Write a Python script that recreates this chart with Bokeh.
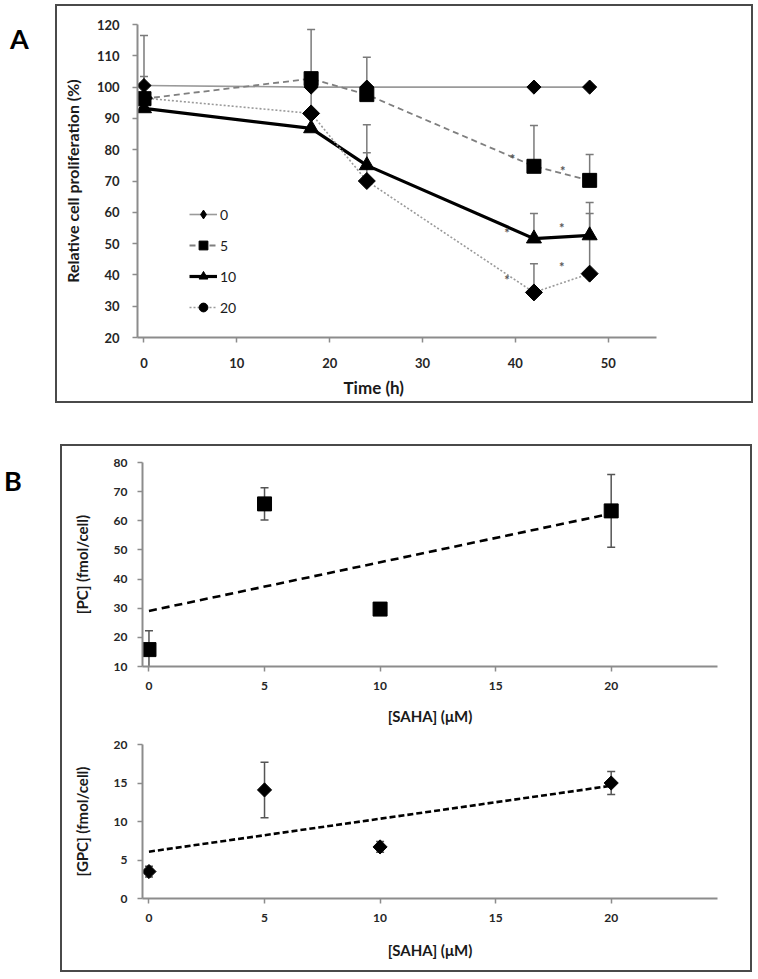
import numpy as np
from bokeh.plotting import figure
from bokeh.layouts import column, row
from bokeh.models import (ColumnDataSource, Whisker, TeeHead, Title, Div, Spacer,
                          Legend, LegendItem, FixedTicker, Range1d)
from bokeh.core.properties import value
from bokeh.embed import file_html
from bokeh.resources import INLINE

FONT = "Lato"

# ---------------- Panel A data ----------------
time_h = [0, 18, 24, 42, 48]
saha_0 = [100.5, 100, 100, 100, 100]
saha_5 = [96.3, 102.7, 97.6, 74.7, 70.2]
saha_10 = [93.2, 86.8, 75.0, 51.6, 52.6]
saha_20 = [96.5, 91.6, 70.0, 34.4, 40.4]
err_0 = [2.9, 0, 0, 0, 0]
err_5 = [20.2, 15.7, 11.9, 13.0, 8.3]
err_10 = [0, 0, 13.0, 8.0, 10.5]
err_20 = [0, 10.0, 9.0, 9.2, 19.2]
legend_labels = ["0", "5", "10", "20"]
sig_t = [39.7, 45.1, 39.1, 45.0, 39.1, 45.0]
sig_y = [78.1, 74.0, 54.5, 55.8, 39.2, 43.6]
a_xticks = [0, 10, 20, 30, 40, 50]
a_yticks = [20, 30, 40, 50, 60, 70, 80, 90, 100, 110, 120]

# ---------------- Panel B data ----------------
saha_uM = [0, 5, 10, 20]
pc = [15.8, 65.8, 29.7, 63.4]
pc_err = [6.5, 5.5, 1.5, 12.5]
gpc = [3.5, 14.1, 6.7, 15.0]
gpc_err = [0.7, 3.6, 0.7, 1.5]
b_xticks = [0, 5, 10, 15, 20]
pc_yticks = [10, 20, 30, 40, 50, 60, 70, 80]
gpc_yticks = [0, 5, 10, 15, 20]

BOX = {"border": "2px solid #4a4a4a"}


def style(p, tick_size, title_size, label_standoff, title_standoff):
    p.background_fill_color = "white"
    p.border_fill_color = "white"
    p.outline_line_color = None
    p.xgrid.visible = False
    p.ygrid.visible = False
    for ax in p.axis:
        ax.axis_line_color = "#8c8c8c"
        ax.axis_line_width = 2
        ax.major_tick_line_color = "#8c8c8c"
        ax.major_tick_line_width = 1.5
        ax.major_tick_in = 0
        ax.major_tick_out = 5
        ax.minor_tick_line_color = None
        ax.major_label_text_font = FONT
        ax.major_label_text_font_style = "bold"
        ax.major_label_text_font_size = tick_size
        ax.major_label_text_color = "#262626"
        ax.axis_label_text_font = FONT
        ax.axis_label_text_font_style = "bold"
        ax.axis_label_text_font_size = title_size
        ax.axis_label_text_color = "#1a1a1a"
        ax.major_label_standoff = label_standoff
        ax.axis_label_standoff = title_standoff


def up_whisker(p, x, y, err, color):
    x = np.asarray(x, float); y = np.asarray(y, float); e = np.asarray(err, float)
    m = e > 0
    src = ColumnDataSource(data=dict(x=x[m], lo=y[m], hi=(y + e)[m]))
    p.add_layout(Whisker(base="x", lower="lo", upper="hi", source=src, dimension="height",
                         line_color=color, line_width=1.5, lower_head=None,
                         upper_head=TeeHead(size=8, line_color=color, line_width=1.5),
                         level="underlay"))


def sym_whisker(p, x, y, err, color):
    y = np.asarray(y, float); e = np.asarray(err, float)
    src = ColumnDataSource(data=dict(x=x, lo=y - e, hi=y + e))
    p.add_layout(Whisker(base="x", lower="lo", upper="hi", source=src, dimension="height",
                         line_color=color, line_width=1.5,
                         lower_head=TeeHead(size=8, line_color=color, line_width=1.5),
                         upper_head=TeeHead(size=8, line_color=color, line_width=1.5),
                         level="underlay"))


def letter(txt, w, pad_top, pad_left):
    return Div(text=(f'<div style="font-family: {FONT}; font-weight: bold; font-size: 27px; '
                     f'line-height: 32px; color: black; padding: {pad_top}px 0 0 {pad_left}px;">{txt}</div>'),
               width=w, height=75, margin=0)


# ================= Panel A =================
pA = figure(width=694, height=395, output_backend="svg", toolbar_location=None,
            x_range=Range1d(-0.7, 55.2), y_range=Range1d(20, 120),
            min_border_left=80, min_border_right=95, min_border_top=18, min_border_bottom=64)
style(pA, "13px", "16px", 13, 12)
pA.xaxis.ticker = FixedTicker(ticks=a_xticks)
pA.yaxis.ticker = FixedTicker(ticks=a_yticks)
pA.xaxis.major_label_standoff = 15
pA.yaxis.axis_label = "Relative cell proliferation (%)"
pA.add_layout(Title(text="Time (h)", align="left", offset=206, standoff=8,
                    text_font=FONT, text_font_style="bold", text_font_size="17px",
                    text_color="#1a1a1a"), "below")

for s, e in zip([saha_0, saha_5, saha_10, saha_20], [err_0, err_5, err_10, err_20]):
    up_whisker(pA, time_h, s, e, "#7a7a7a")

line_styles = [
    dict(line_color="#9a9a9a", line_width=1.6),
    dict(line_color="#7f7f7f", line_width=1.8, line_dash="6 4"),
    dict(line_color="black", line_width=3.2),
    dict(line_color="#9a9a9a", line_width=1.6, line_dash="2 2"),
]
lines = [pA.line(time_h, s, **st) for s, st in zip([saha_0, saha_5, saha_10, saha_20], line_styles)]

# legend-style symbols (diamond / circle) lie under the plot's larger symbols
m0d = pA.scatter(time_h, saha_0, marker="diamond", size=8, color="black")
pA.scatter(time_h, saha_0, marker="square", angle=np.pi / 4, size=10, color="black")
m5 = pA.scatter(time_h, saha_5, marker="square", size=14, color="black")
m10 = pA.scatter(time_h, saha_10, marker="triangle", size=15, color="black")
m20c = pA.scatter(time_h, saha_20, marker="circle", size=8, color="black")
pA.scatter(time_h, saha_20, marker="square", angle=np.pi / 4, size=12, color="black")

pA.text(sig_t, sig_y, text=["*"] * len(sig_t), text_font=value(FONT), text_font_style="bold",
        text_font_size="13px", text_color="#555555", text_align="center",
        text_baseline="middle", y_offset=3)

items = [LegendItem(label=lab, renderers=[ln, mk])
         for lab, ln, mk in zip(legend_labels, lines, [m0d, m5, m10, m20c])]
leg = Legend(items=items, location=(52, 19), padding=0, margin=0, spacing=9,
             glyph_width=28, glyph_height=22, label_standoff=3, label_height=22,
             label_text_font=FONT, label_text_font_size="14px", label_text_color="#1a1a1a",
             border_line_color=None, background_fill_alpha=0)
pA.add_layout(leg)

# ================= Panel B (PC) =================
p1 = figure(width=688, height=284, output_backend="svg", toolbar_location=None,
            x_range=Range1d(-0.28, 24.6), y_range=Range1d(10, 80),
            min_border_left=80, min_border_right=33, min_border_top=16, min_border_bottom=64)
style(p1, "12px", "15px", 10, 14)
p1.yaxis.axis_label_standoff = 20
p1.xaxis.ticker = FixedTicker(ticks=b_xticks)
p1.yaxis.ticker = FixedTicker(ticks=pc_yticks)
p1.xaxis.axis_label = "[SAHA] (μM)"
p1.yaxis.axis_label = "[PC] (fmol/cell)"

tx = np.array([0.0, 20.0])
coef_pc = np.polyfit(saha_uM, pc, 1)
p1.line(tx, np.polyval(coef_pc, tx), line_color="black", line_width=2.6, line_dash="8 5")
sym_whisker(p1, saha_uM, pc, pc_err, "#555555")
p1.scatter(saha_uM, pc, marker="square", size=14, color="black")

# ================= Panel B (GPC) =================
p2 = figure(width=688, height=240, output_backend="svg", toolbar_location=None,
            x_range=Range1d(-0.28, 24.6), y_range=Range1d(0, 20),
            min_border_left=80, min_border_right=33, min_border_top=14, min_border_bottom=72)
style(p2, "12px", "15px", 10, 16)
p2.yaxis.axis_label_standoff = 20
p2.xaxis.ticker = FixedTicker(ticks=b_xticks)
p2.yaxis.ticker = FixedTicker(ticks=gpc_yticks)
p2.xaxis.axis_label = "[SAHA] (μM)"
p2.yaxis.axis_label = "[GPC] (fmol/cell)"

coef_gpc = np.polyfit(saha_uM, gpc, 1)
p2.line(tx, np.polyval(coef_gpc, tx), line_color="black", line_width=2.6, line_dash="6 3")
sym_whisker(p2, saha_uM, gpc, gpc_err, "#555555")
p2.scatter(saha_uM, gpc, marker="square", angle=np.pi / 4, size=10, color="black")

boxA = column(pA, styles=BOX)
boxB = column(p1, p2, spacing=0, styles=BOX)
layout = column(Spacer(width=10, height=4),
                row(letter("A", 55, 19, 10), boxA),
                row(letter("B", 60, 21, 4), boxB),
                spacing=0)
layout.children[2].margin = (41, 0, 0, 0)
open("out.html", "w").write(file_html(layout, INLINE))
